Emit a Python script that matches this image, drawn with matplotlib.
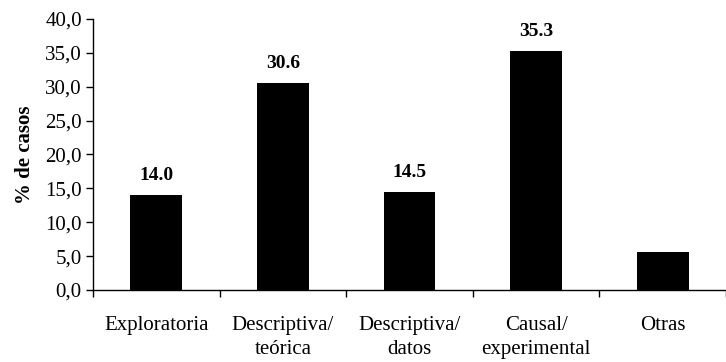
import matplotlib
matplotlib.use("Agg")
import matplotlib.pyplot as plt
from matplotlib.ticker import FuncFormatter, FixedLocator, NullFormatter

categories = ["Exploratoria", "Descriptiva/\nteórica", "Descriptiva/\ndatos",
              "Causal/\nexperimental", "Otras"]
values = [14.0, 30.6, 14.5, 35.3, 5.6]
labeled = [True, True, True, True, False]
y_ticks = [0, 5, 10, 15, 20, 25, 30, 35, 40]

plt.rcParams["font.family"] = ["Liberation Serif", "DejaVu Serif"]

fig = plt.figure(figsize=(7.26, 3.62), dpi=100)
ax = fig.add_axes([0.128, 0.199, 0.872, 0.7485])

x = list(range(len(categories)))
bars = ax.bar(x, values, width=0.41, color="black")

for xi, v, show in zip(x, values, labeled):
    if show:
        ax.annotate(f"{v:.1f}", (xi, v), xytext=(0, 8), textcoords="offset points",
                    ha="center", va="bottom", fontsize=14, fontweight="bold")

ax.set_xlim(-0.5, len(categories) - 0.5)
ax.set_ylim(0, 40)
ax.set_yticks(y_ticks)
ax.yaxis.set_major_formatter(FuncFormatter(lambda v, p: f"{v:.1f}".replace(".", ",")))

ax.set_xticks(x)
ax.set_xticklabels(categories, fontsize=15, linespacing=1.3)
ax.tick_params(axis="x", which="major", length=0, pad=19)
ax.xaxis.set_minor_locator(FixedLocator([i - 0.5 for i in range(len(categories) + 1)]))
ax.xaxis.set_minor_formatter(NullFormatter())
ax.tick_params(axis="x", which="minor", length=5, width=1, direction="out")
ax.tick_params(axis="y", length=5, width=1, direction="out", labelsize=15, pad=3)

ax.set_ylabel("% de casos", fontsize=15, fontweight="bold", labelpad=7)

for s in ["top", "right"]:
    ax.spines[s].set_visible(False)
for s in ["left", "bottom"]:
    ax.spines[s].set_linewidth(1)

fig.savefig("out.png", dpi=100)
